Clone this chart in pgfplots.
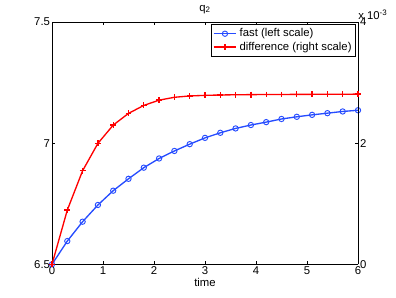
\documentclass[border=0pt]{standalone}
\usepackage{pgfplots}
\pgfplotsset{compat=1.18}
\usepackage{fontspec}
\setmainfont{Liberation Sans}
\definecolor{mblue}{rgb}{0.15,0.3,1}
\begin{document}
\fontsize{8.5}{10}\selectfont
\begin{tikzpicture}
\useasboundingbox (0,0) rectangle (297pt,222.75pt);
\begin{axis}[
  at={(39pt,24.5pt)}, anchor=south west,
  scale only axis, width=229.5pt, height=181.7pt,
  xmin=0, xmax=6, ymin=6.5, ymax=7.5,
  xtick={0,1,2,3,4,5,6}, ytick={6.5,7,7.5},
  yticklabels={6.5,7,7.5},
  tick align=inside, major tick length=2.2pt,
  xtick pos=both, ytick pos=left,
  axis x line*=box,
  separate axis lines,
  axis line style={line width=0.5pt},
  every tick/.style={black, line width=0.4pt},
  /pgf/number format/assume math mode=true,
  ticklabel style={font=\fontsize{8.5}{10}\selectfont},
  yticklabel style={xshift=1.5pt},
  xticklabel style={yshift=1pt},
  xlabel={time},
  xlabel style={yshift=3.5pt, font=\fontsize{8.5}{10}\selectfont},
  title={q\textsubscript{2}},
  title style={yshift=-2.5pt, font=\fontsize{8.5}{10}\selectfont},
  axis y line*=left,
  clip=false,
]
\addplot[mblue, line width=1pt, mark=o, mark size=2pt, mark options={line width=0.7pt}] coordinates {
(0,6.5) (0.3,6.596) (0.6,6.676) (0.9,6.745) (1.2,6.804) (1.5,6.853) (1.8,6.899)
(2.1,6.937) (2.4,6.968) (2.7,6.996) (3.0,7.022) (3.3,7.043) (3.6,7.061) (3.9,7.075)
(4.2,7.087) (4.5,7.100) (4.8,7.109) (5.1,7.117) (5.4,7.124) (5.7,7.131) (6.0,7.136)
};
\draw[line width=0.5pt] (rel axis cs:0,1) -- (rel axis cs:1,1);
\end{axis}
\begin{axis}[
  at={(39pt,24.5pt)}, anchor=south west,
  scale only axis, width=229.5pt, height=181.7pt,
  xmin=0, xmax=6, ymin=0, ymax=4,
  axis x line=none,
  axis y line*=right,
  ytick={0,2,4},
  tick align=inside, major tick length=2.2pt,
  axis line style={line width=0.5pt},
  every tick/.style={black, line width=0.4pt},
  /pgf/number format/assume math mode=true,
  ticklabel style={font=\fontsize{8.5}{10}\selectfont},
  yticklabel style={xshift=-1.5pt},
  clip=false,
  legend style={at={(rel axis cs:0.993,0.99)}, anchor=north east,
    font=\fontsize{8.5}{10}\selectfont, draw=black, line width=0.4pt,
    inner sep=1pt, row sep=-1.5pt, cells={anchor=west}},
]
\addlegendimage{mblue, line width=1pt, mark=o, mark size=2pt, mark options={line width=0.7pt}}
\addlegendentry{fast (left scale)}
\addplot[red, line width=1pt, mark=+, mark size=2.2pt] coordinates {
(0,0) (0.3,0.896) (0.6,1.545) (0.9,1.997) (1.2,2.299) (1.5,2.492) (1.8,2.624)
(2.1,2.711) (2.4,2.758) (2.7,2.780) (3.0,2.790) (3.3,2.796) (3.6,2.800) (3.9,2.802)
(4.2,2.804) (4.5,2.805) (4.8,2.806) (5.1,2.807) (5.4,2.808) (5.7,2.809) (6.0,2.810)
};
\addlegendentry{difference (right scale)}
\node[anchor=south west, inner sep=0pt, font=\fontsize{8.5}{10}\selectfont] at ([yshift=1.5pt]rel axis cs:1,1) {x 10\textsuperscript{-3}};
\end{axis}
\end{tikzpicture}
\end{document}
